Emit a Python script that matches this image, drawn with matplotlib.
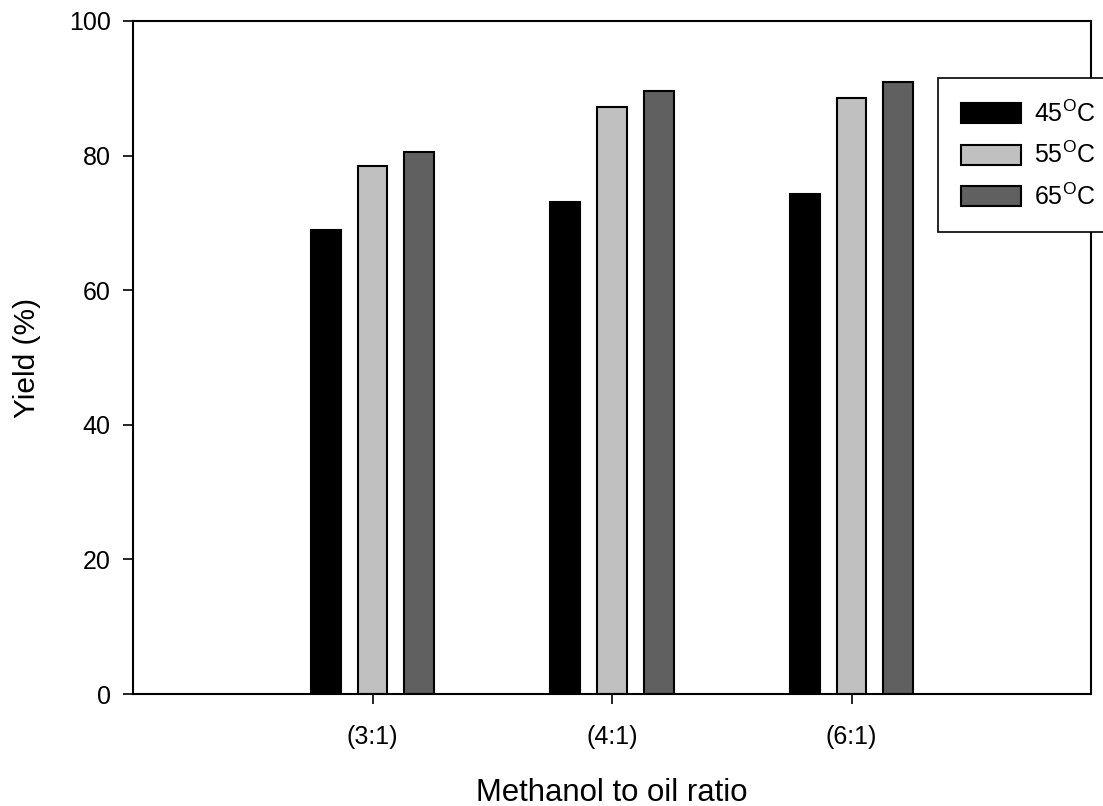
import numpy as np
import matplotlib
matplotlib.use("Agg")
from matplotlib import pyplot as plt
from matplotlib.patches import Patch

plt.rcParams['font.family'] = ['Liberation Sans', 'DejaVu Sans']
plt.rcParams['mathtext.fontset'] = 'custom'
plt.rcParams['mathtext.rm'] = 'Liberation Sans'

# Data
ratios = ["(3:1)", "(4:1)", "(6:1)"]
yield_45 = [69.0, 73.1, 74.3]
yield_55 = [78.5, 87.2, 88.5]
yield_65 = [80.5, 89.6, 91.0]
series_labels = ["45$^{\\mathrm{O}}$C", "55$^{\\mathrm{O}}$C", "65$^{\\mathrm{O}}$C"]
colors = ["#000000", "#c0c0c0", "#606060"]

fig = plt.figure(figsize=(11.03, 8.06), dpi=100)
ax = fig.add_axes([133 / 1103, 1 - 694 / 806, (1091 - 133) / 1103, (694 - 21) / 806])

x = np.arange(1, len(ratios) + 1)
width = 0.125
offset = 0.196
for i, (vals, col) in enumerate(zip([yield_45, yield_55, yield_65], colors)):
    ax.bar(x + (i - 1) * offset, vals, width, color=col, edgecolor="black", linewidth=1.5, zorder=2)

ax.set_xlim(0, 4)
ax.set_ylim(0, 100)
ax.set_xticks(x)
ax.set_xticklabels(ratios)
ax.set_yticks(np.arange(0, 101, 20))
ax.tick_params(axis="both", direction="out", length=7, width=1.2, labelsize=18)
ax.tick_params(axis="y", pad=9)
ax.tick_params(axis="x", pad=15)
for sp in ax.spines.values():
    sp.set_linewidth(1.5)

ax.set_xlabel("Methanol to oil ratio", fontsize=22.4, labelpad=21)
ax.set_ylabel("Yield (%)", fontsize=21.5, labelpad=20)

handles = [Patch(facecolor=c, edgecolor="black", linewidth=1.5) for c in colors]
leg = fig.legend(handles, series_labels, loc="upper left",
                 bbox_to_anchor=(938 / 1103, 1 - 78 / 806), borderaxespad=0,
                 fontsize=18, fancybox=False, framealpha=1, edgecolor="black",
                 handlelength=2.4, handleheight=0.85, labelspacing=0.6,
                 borderpad=0.9, handletextpad=0.55)
leg.get_frame().set_linewidth(1.2)

fig.savefig("out.png", dpi=100)
